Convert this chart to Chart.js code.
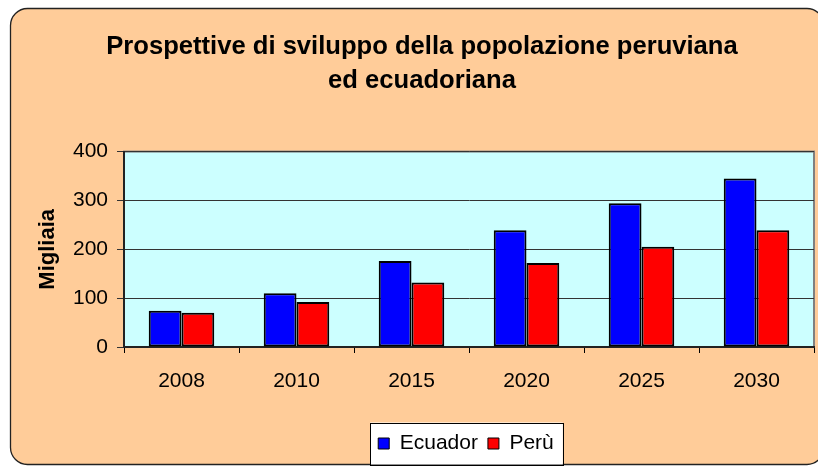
<!DOCTYPE html>
<html>
<head>
<meta charset="utf-8">
<script src="https://cdn.jsdelivr.net/npm/chart.js@4/dist/chart.umd.min.js"></script>
<style>
  html, body { margin: 0; padding: 0; background: #ffffff; }
  #wrap { width: 818px; height: 466px; position: relative; }
</style>
</head>
<body>
<div id="wrap"><canvas id="c" width="818" height="466"></canvas></div>
<script>
const categories = ['2008', '2010', '2015', '2020', '2025', '2030'];
const ecuador = [74, 110, 176, 239, 294, 345];
const peru = [70, 92, 132, 172, 205, 239];
const seriesNames = ['Ecuador', 'Perù'];
const titleLines = ['Prospettive di sviluppo della popolazione peruviana', 'ed ecuadoriana'];
const yAxisTitle = 'Migliaia';
const yTicks = [0, 100, 200, 300, 400];

const FONT = "'Liberation Sans', Arial, sans-serif";

const decorPlugin = {
  id: 'decor',
  afterLayout(chart) {
    const lg = chart.legend;
    if (lg) { lg.left += 59; lg.right += 59; }
    const tb = chart.titleBlock;
    if (tb) { tb.left += 15; tb.right += 15; }
  },
  beforeDraw(chart) {
    const ctx = chart.ctx;
    const ca = chart.chartArea;
    ctx.save();
    // outer rounded box
    const x0 = 10.5, y0 = 8.5, x1 = 824, y1 = 464.5, r = 17;
    ctx.beginPath();
    ctx.moveTo(x0 + r, y0);
    ctx.lineTo(x1 - r, y0);
    ctx.arcTo(x1, y0, x1, y0 + r, r);
    ctx.lineTo(x1, y1 - r);
    ctx.arcTo(x1, y1, x1 - r, y1, r);
    ctx.lineTo(x0 + r, y1);
    ctx.arcTo(x0, y1, x0, y1 - r, r);
    ctx.lineTo(x0, y0 + r);
    ctx.arcTo(x0, y0, x0 + r, y0, r);
    ctx.closePath();
    ctx.fillStyle = '#FFCC99';
    ctx.fill();
    ctx.lineWidth = 1.3;
    ctx.strokeStyle = '#222222';
    ctx.stroke();
    // plot area
    ctx.fillStyle = '#CCFFFF';
    ctx.fillRect(ca.left, ca.top, ca.right - ca.left, ca.bottom - ca.top);
    ctx.strokeStyle = '#808080';
    ctx.lineWidth = 2;
    ctx.strokeRect(ca.left, ca.top, ca.right - ca.left, ca.bottom - ca.top);
    // legend frame
    const lg = chart.legend;
    if (lg && lg.lineWidths) {
      const pad = lg.options.labels.padding;
      const start = (lg.left + pad + lg.right - lg.lineWidths[0]) / 2;
      const end = start + lg.lineWidths[0] - pad;
      const fs = lg.options.labels.font.size;
      const cy = lg.top + pad + fs / 2;
      ctx.fillStyle = '#FFFFFF';
      ctx.fillRect(start - 8, cy - 21, end - start + 17, 42);
      ctx.strokeStyle = '#000000';
      ctx.lineWidth = 1;
      ctx.strokeRect(Math.round(start - 8) + 0.5, Math.round(cy - 21) + 0.5, Math.round(end - start + 17), 42);
    }
    ctx.restore();
  }
};

new Chart(document.getElementById('c'), {
  type: 'bar',
  data: {
    labels: categories,
    datasets: [
      { label: seriesNames[0], data: ecuador, backgroundColor: '#0000FF', borderColor: '#000000', borderWidth: 2, borderSkipped: false },
      { label: seriesNames[1], data: peru, backgroundColor: '#FF0000', borderColor: '#000000', borderWidth: 2, borderSkipped: false }
    ]
  },
  plugins: [decorPlugin],
  options: {
    responsive: false,
    animation: false,
    devicePixelRatio: 1,
    layout: { padding: { left: 0, right: 4, top: 0, bottom: 2 } },
    datasets: { bar: { barPercentage: 1.0, categoryPercentage: 0.57 } },
    plugins: {
      title: {
        display: true,
        text: titleLines,
        color: '#000000',
        font: { family: FONT, size: 25.6, weight: 'bold', lineHeight: 1.32 },
        padding: { top: 30, bottom: 54 }
      },
      legend: {
        display: true,
        position: 'bottom',
        labels: {
          color: '#000000',
          font: { family: FONT, size: 21 },
          boxWidth: 11,
          boxHeight: 11,
          padding: 10,
          generateLabels(chart) {
            const items = Chart.defaults.plugins.legend.labels.generateLabels(chart);
            items.forEach(it => { it.lineWidth = 1; });
            return items;
          }
        }
      },
      tooltip: { enabled: false }
    },
    scales: {
      x: {
        grid: { display: true, drawOnChartArea: false, drawTicks: true, tickLength: 6, color: '#000000', offset: true },
        border: { display: true, color: '#222222', width: 2 },
        ticks: { color: '#000000', font: { family: FONT, size: 21 }, padding: 16, maxRotation: 0 },
        afterFit(scale) { scale.height = 76; }
      },
      y: {
        min: 0,
        max: 400,
        afterBuildTicks(scale) { scale.ticks = yTicks.map(v => ({ value: v })); },
        grid: { color: '#333333', lineWidth: 1, drawTicks: true, tickLength: 7 },
        border: { display: true, color: '#222222', width: 2 },
        ticks: { color: '#000000', font: { family: FONT, size: 21 }, padding: 9 },
        title: {
          display: true,
          text: yAxisTitle,
          color: '#000000',
          font: { family: FONT, size: 22, weight: 'bold' },
          padding: { top: 35, bottom: 0 }
        },
        afterFit(scale) { scale.width = 124; }
      }
    }
  }
});
</script>
</body>
</html>
